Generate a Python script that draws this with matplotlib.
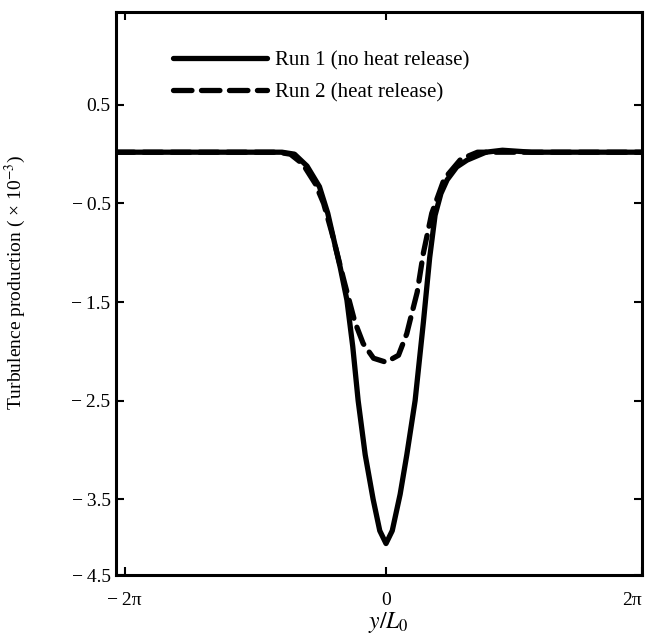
import numpy as np
import matplotlib.pyplot as plt

plt.rcParams["font.family"] = ["Liberation Serif", "DejaVu Serif"]
plt.rcParams["mathtext.fontset"] = "stix"

# Run 1 (no heat release)
x_run1 = [-6.5, -3.0, -2.5, -2.2, -1.9, -1.6, -1.4, -1.27, -1.1, -0.94, -0.8,
          -0.67, -0.5, -0.31, -0.15, 0.0, 0.15, 0.34, 0.5, 0.7, 0.9, 1.05,
          1.18, 1.32, 1.47, 1.7, 1.95, 2.4, 2.8, 3.5, 6.2]
y_run1 = [0.02, 0.02, 0.02, 0.0, -0.12, -0.33, -0.6, -0.84, -1.15, -1.48, -1.95,
          -2.5, -3.05, -3.5, -3.82, -3.95, -3.82, -3.45, -3.05, -2.5, -1.7, -1.05,
          -0.62, -0.4, -0.26, -0.13, -0.06, 0.02, 0.04, 0.02, 0.02]

# Run 2 (heat release)
x_run2 = [-6.5, -2.6, -2.3, -2.0, -1.7, -1.5, -1.3, -1.15, -1.0, -0.75, -0.55,
          -0.3, 0.0, 0.3, 0.5, 0.6, 0.75, 0.9, 1.1, 1.4, 1.8, 2.2, 6.2]
y_run2 = [0.02, 0.02, 0.0, -0.1, -0.3, -0.5, -0.8, -1.05, -1.3, -1.7, -1.92,
          -2.07, -2.11, -2.04, -1.82, -1.65, -1.4, -1.0, -0.6, -0.25, -0.05, 0.02, 0.02]

ytick_vals = [0.5, -0.5, -1.5, -2.5, -3.5, -4.27]
ytick_labels = ["0.5", "\u2212\u20090.5", "\u2212\u20091.5", "\u2212\u20092.5",
                "\u2212\u20093.5", "\u2212\u20094.5"]
xtick_vals = [-2 * np.pi, 0, 6.15]
xtick_labels = ["\u2212\u20092\u03c0", "0", "2\u03c0"]

fig = plt.figure(figsize=(6.45, 6.44), dpi=100)
ax = fig.add_axes([0.180, 0.107, 0.815, 0.874])

ax.plot(x_run1, y_run1, color="black", linewidth=3.8, solid_joinstyle="round",
        solid_capstyle="round", label="Run 1 (no heat release)")
ax.plot(x_run2, y_run2, color="black", linewidth=3.8, dashes=(3.5, 1.8),
        dash_capstyle="round", label="Run 2 (heat release)")

ax.set_xlim(-6.49, 6.15)
ax.set_ylim(-4.27, 1.44)
ax.set_xticks(xtick_vals)
ax.set_xticklabels(xtick_labels, fontsize=14)
ax.get_xticklabels()[-1].set_horizontalalignment("right")
ax.set_yticks(ytick_vals)
ax.set_yticklabels(ytick_labels, fontsize=14)
ax.tick_params(direction="in", length=6, width=1.5, top=True, right=True,
               labelright=False, labeltop=False)
ax.tick_params(axis="x", pad=12)
ax.tick_params(axis="y", pad=4)

for s in ax.spines.values():
    s.set_linewidth(2.2)

ax.set_ylabel("Turbulence production ( \u00d7 10$^{-3}$)", fontsize=14)
ax.yaxis.set_label_coords(-0.167, 0.52)
ax.set_xlabel("$y/L_0$", fontsize=17)
ax.xaxis.set_label_coords(0.517, -0.062)

ax.legend(loc="upper left", bbox_to_anchor=(0.108, 0.931), frameon=False,
          fontsize=15, handlelength=4.5, handletextpad=0.38, labelspacing=0.59,
          borderpad=0, borderaxespad=0)

plt.savefig("out.png", dpi=100)
